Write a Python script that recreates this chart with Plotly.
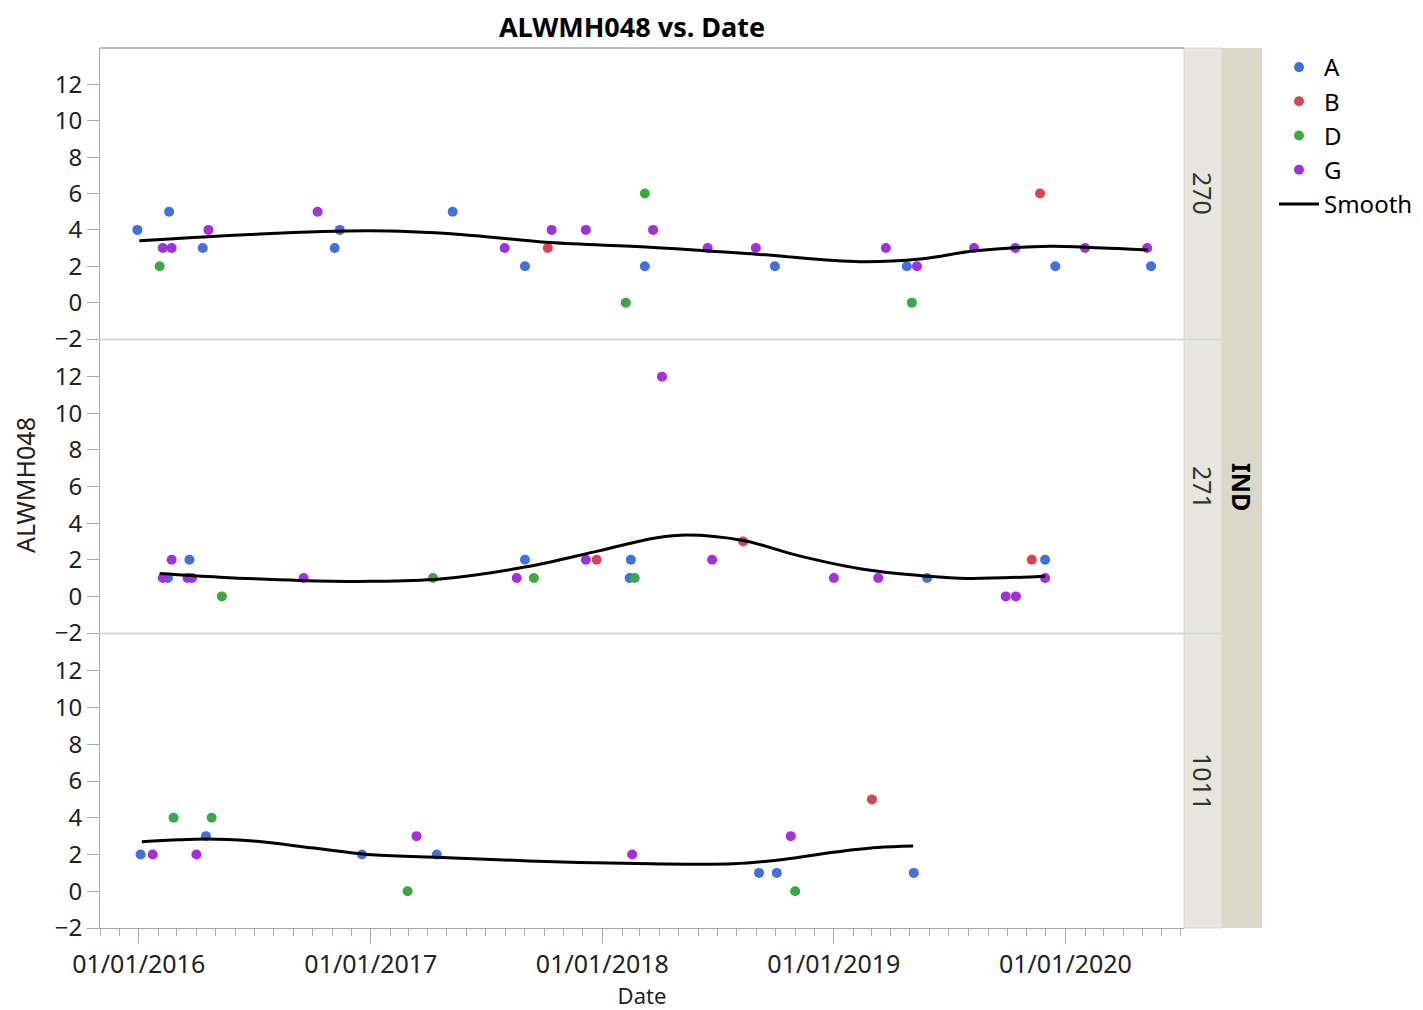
import plotly.graph_objects as go

# ---------------- data ----------------
panels = ["270", "271", "1011"]
groups = ["A", "B", "D", "G"]
colors = {"A": "#3F72E0", "B": "#D8444F", "D": "#38AA42", "G": "#A32FE0"}

# panel 270
p270_A_dates = ["2015-12-30", "2016-02-18", "2016-04-11", "2016-11-05", "2016-11-13", "2017-05-10",
                "2017-09-01", "2018-03-09", "2018-09-30", "2019-04-26", "2019-12-16", "2020-05-15"]
p270_A_vals = [4, 5, 3, 3, 4, 5, 2, 2, 2, 2, 2, 2]
p270_B_dates = ["2017-10-07", "2019-11-22"]
p270_B_vals = [3, 6]
p270_D_dates = ["2016-02-03", "2018-02-07", "2018-03-09", "2019-05-04"]
p270_D_vals = [2, 0, 6, 0]
p270_G_dates = ["2016-02-08", "2016-02-22", "2016-04-20", "2016-10-09", "2017-07-31", "2017-10-13",
                "2017-12-06", "2018-03-22", "2018-06-16", "2018-08-31", "2019-03-24", "2019-05-12",
                "2019-08-10", "2019-10-14", "2020-02-01", "2020-05-09"]
p270_G_vals = [3, 3, 4, 5, 3, 4, 4, 4, 3, 3, 3, 2, 3, 3, 3, 3]
p270_smooth_dates = ["2016-01-02", "2016-06-24", "2016-12-30", "2017-05-22", "2017-10-10", "2018-03-17",
                     "2018-09-06", "2019-02-11", "2019-05-17", "2019-08-12", "2019-12-08", "2020-02-01",
                     "2020-05-10"]
p270_smooth_vals = [3.4, 3.75, 3.95, 3.75, 3.3, 3.05, 2.65, 2.25, 2.4, 2.85, 3.1, 3.05, 2.9]

# panel 271
p271_A_dates = ["2016-02-16", "2016-03-21", "2017-09-01", "2018-02-13", "2018-02-15", "2019-05-28", "2019-11-30"]
p271_A_vals = [1, 2, 2, 1, 2, 1, 2]
p271_B_dates = ["2017-12-23", "2018-08-11", "2019-11-09"]
p271_B_vals = [2, 3, 2]
p271_D_dates = ["2016-05-11", "2017-04-09", "2017-09-15", "2018-02-21"]
p271_D_vals = [0, 1, 1, 1]
p271_G_dates = ["2016-02-08", "2016-02-22", "2016-03-18", "2016-03-25", "2016-09-17", "2017-08-19",
                "2017-12-06", "2018-04-05", "2018-06-23", "2019-01-01", "2019-03-12", "2019-09-29",
                "2019-10-15", "2019-11-30"]
p271_G_vals = [1, 2, 1, 1, 1, 1, 2, 12, 2, 1, 1, 0, 0, 1]
p271_smooth_dates = ["2016-02-03", "2016-05-08", "2016-09-11", "2016-12-30", "2017-04-20", "2017-09-01",
                     "2017-12-28", "2018-03-28", "2018-05-14", "2018-08-11", "2018-11-09", "2019-02-22",
                     "2019-05-28", "2019-07-30", "2019-11-30"]
p271_smooth_vals = [1.25, 1.05, 0.87, 0.82, 0.95, 1.6, 2.5, 3.2, 3.35, 3.05, 2.2, 1.45, 1.1, 0.98, 1.1]

# panel 1011
p1011_A_dates = ["2016-01-04", "2016-04-16", "2016-12-18", "2017-04-15", "2018-09-05", "2018-10-03", "2019-05-07"]
p1011_A_vals = [2, 3, 2, 2, 1, 1, 1]
p1011_B_dates = ["2019-03-02"]
p1011_B_vals = [5]
p1011_D_dates = ["2016-02-25", "2016-04-25", "2017-02-28", "2018-11-01"]
p1011_D_vals = [4, 4, 0, 0]
p1011_G_dates = ["2016-01-23", "2016-04-01", "2017-03-14", "2018-02-17", "2018-10-25"]
p1011_G_vals = [2, 2, 3, 2, 3]
p1011_smooth_dates = ["2016-01-06", "2016-04-17", "2016-06-24", "2016-10-03", "2016-12-27", "2017-04-13",
                      "2017-09-07", "2018-03-17", "2018-07-26", "2018-10-13", "2018-12-31", "2019-03-10",
                      "2019-05-06"]
p1011_smooth_vals = [2.7, 2.85, 2.75, 2.35, 2.0, 1.85, 1.65, 1.5, 1.5, 1.73, 2.12, 2.38, 2.46]

y_ticks = [-2, 0, 2, 4, 6, 8, 10, 12]
x_tick_dates = ["2016-01-01", "2017-01-01", "2018-01-01", "2019-01-01", "2020-01-01"]
x_tick_labels = ["01/01/2016", "01/01/2017", "01/01/2018", "01/01/2019", "01/01/2020"]

panel_data = {
    "270": {"A": (p270_A_dates, p270_A_vals), "B": (p270_B_dates, p270_B_vals),
            "D": (p270_D_dates, p270_D_vals), "G": (p270_G_dates, p270_G_vals),
            "smooth": (p270_smooth_dates, p270_smooth_vals)},
    "271": {"A": (p271_A_dates, p271_A_vals), "B": (p271_B_dates, p271_B_vals),
            "D": (p271_D_dates, p271_D_vals), "G": (p271_G_dates, p271_G_vals),
            "smooth": (p271_smooth_dates, p271_smooth_vals)},
    "1011": {"A": (p1011_A_dates, p1011_A_vals), "B": (p1011_B_dates, p1011_B_vals),
             "D": (p1011_D_dates, p1011_D_vals), "G": (p1011_G_dates, p1011_G_vals),
             "smooth": (p1011_smooth_dates, p1011_smooth_vals)},
}

# ---------------- figure ----------------
W, H = 1423, 1002
OFF = 8  # page body margin
# target positions in screenshot pixels
SL, SR, ST, SB = 100, 1184, 48, 928
L, R, T, B = SL - OFF, SR - OFF, ST - OFF, SB - OFF
FONT = "Noto Sans, Open Sans, DejaVu Sans, sans-serif"
AXIS_GREY = "#A8A8A8"
TXT = "#222"

fig = go.Figure()
yaxis_names = ["y", "y2", "y3"]
for i, p in enumerate(panels):
    d = panel_data[p]
    for g in groups:
        xs, ys = d[g]
        fig.add_trace(go.Scatter(
            x=xs, y=ys, mode="markers", name=g, legendgroup=g, showlegend=(i == 0),
            marker=dict(color=colors[g], size=10, line=dict(width=0)),
            xaxis="x", yaxis=yaxis_names[i]))
    xs, ys = d["smooth"]
    fig.add_trace(go.Scatter(
        x=xs, y=ys, mode="lines", name="Smooth", legendgroup="smooth", showlegend=(i == 0),
        line=dict(color="black", width=3, shape="spline", smoothing=1.0),
        xaxis="x", yaxis=yaxis_names[i]))

def py(pix):
    return (SB - pix) / (SB - ST)
def px(pix):
    return (pix - SL) / (SR - SL)

domains = [[py(339), 1.0], [py(633), py(340)], [0.0, py(634)]]

yax_common = dict(range=[-2, 14], tickvals=y_ticks, ticks="outside", ticklen=12, tickwidth=1,
                  tickcolor=AXIS_GREY, showline=True, linecolor=AXIS_GREY, linewidth=1,
                  showgrid=False, zeroline=False, anchor="x",
                  tickfont=dict(family=FONT, size=24, color=TXT))
layout_axes = {}
layout_axes["yaxis"] = dict(domain=domains[0], **yax_common)
layout_axes["yaxis2"] = dict(domain=domains[1], **yax_common)
layout_axes["yaxis3"] = dict(domain=domains[2], **yax_common)

fig.update_layout(
    width=W, height=H,
    margin=dict(l=L, r=W - R, t=T, b=H - B, pad=0),
    paper_bgcolor="white", plot_bgcolor="white",
    title=dict(text="<b>ALWMH048 vs. Date</b>", x=(632 - OFF) / W, xanchor="center",
               y=1 - (28 - OFF) / H, yanchor="middle", yref="container",
               font=dict(family=FONT, size=27, color="black")),
    xaxis=dict(type="date", range=["2015-11-01", "2020-07-06"], anchor="y3", domain=[0, 1],
               tickvals=x_tick_dates, ticktext=x_tick_labels, ticks="outside", ticklen=14,
               tickcolor=AXIS_GREY, showline=True, linecolor=AXIS_GREY, showgrid=False,
               zeroline=False, tickfont=dict(family=FONT, size=25, color=TXT),
               minor=dict(dtick="M1", tick0="2016-01-01", ticks="outside", ticklen=7,
                          tickcolor=AXIS_GREY, showgrid=False),
               title=dict(text="Date", standoff=2, font=dict(family=FONT, size=22, color=TXT))),
    legend=dict(x=px(1274), y=py(45), xanchor="left", yanchor="top",
                font=dict(family=FONT, size=24, color="black"),
                bgcolor="rgba(0,0,0,0)", itemwidth=40, tracegroupgap=0),
    showlegend=True,
    **layout_axes,
)

shapes = []
shapes.append(dict(type="line", xref="paper", yref="paper", x0=0, x1=1, y0=1, y1=1,
                   line=dict(color=AXIS_GREY, width=1.5)))
shapes.append(dict(type="rect", xref="paper", yref="paper", x0=px(1184), x1=px(1222), y0=0, y1=1,
                   fillcolor="#E7E7E0", line=dict(color="#D6D6CE", width=1), layer="below"))
shapes.append(dict(type="rect", xref="paper", yref="paper", x0=px(1222), x1=px(1262), y0=0, y1=1,
                   fillcolor="#DAD8C9", line=dict(width=0), layer="below"))
for sep in [339.5, 633.5]:
    shapes.append(dict(type="line", xref="paper", yref="paper", x0=0, x1=px(1222),
                       y0=py(sep), y1=py(sep), line=dict(color="#D9D9D9", width=2)))
fig.update_layout(shapes=shapes)

annotations = []
strip_centers = [193, 487, 781]
for lab, cy in zip(panels, strip_centers):
    annotations.append(dict(text=lab, xref="paper", yref="paper", x=px(1203), y=py(cy),
                            showarrow=False, textangle=90,
                            font=dict(family=FONT, size=25, color="#333"),
                            xanchor="center", yanchor="middle"))
annotations.append(dict(text="<b>IND</b>", xref="paper", yref="paper", x=px(1242), y=py(487),
                        showarrow=False, textangle=90,
                        font=dict(family=FONT, size=25, color="black"),
                        xanchor="center", yanchor="middle"))
annotations.append(dict(text="ALWMH048", xref="paper", yref="paper", x=px(25), y=py(485),
                        showarrow=False, textangle=-90,
                        font=dict(family=FONT, size=25, color=TXT),
                        xanchor="center", yanchor="middle"))
fig.update_layout(annotations=annotations)

fig.write_html("out.html")
